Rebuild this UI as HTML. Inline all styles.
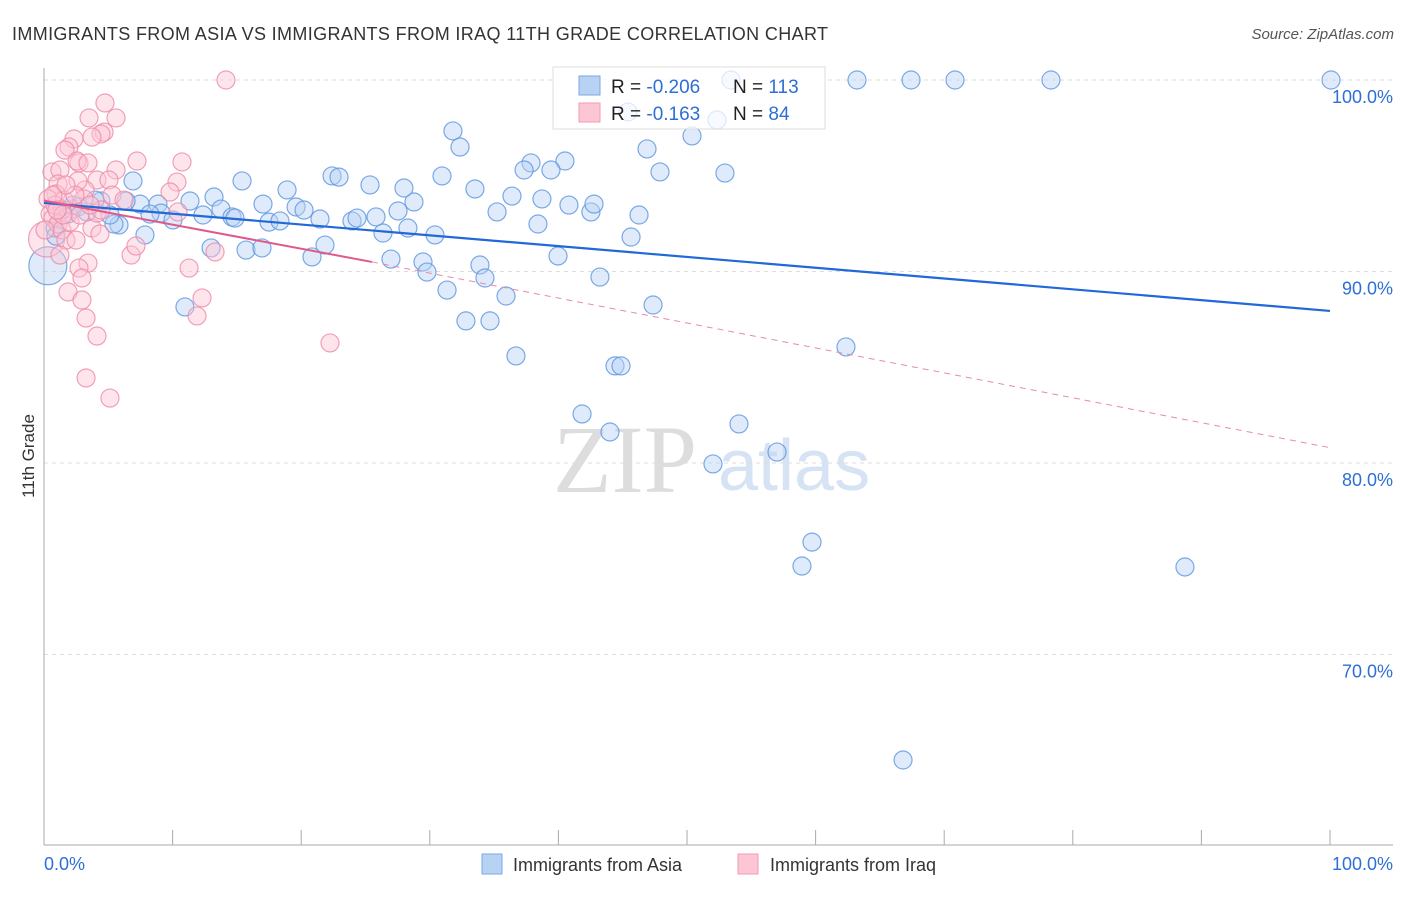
<!DOCTYPE html>
<html><head><meta charset="utf-8"><style>
body{margin:0;background:#fff;font-family:"Liberation Sans",sans-serif}
svg text{font-family:"Liberation Sans",sans-serif}
</style></head><body>
<svg id="c" width="1406" height="892" xmlns="http://www.w3.org/2000/svg">
<text x="12" y="40" font-size="18" fill="#333" letter-spacing="0.36">IMMIGRANTS FROM ASIA VS IMMIGRANTS FROM IRAQ 11TH GRADE CORRELATION CHART</text>
<text x="1394" y="39" font-size="15" fill="#555" font-style="italic" text-anchor="end">Source: ZipAtlas.com</text>
<text x="34" y="456" font-size="17" fill="#333" text-anchor="middle" transform="rotate(-90 34 456)">11th Grade</text>
<g><text x="553" y="492" font-size="96" fill="#ddd" style="font-family:'Liberation Serif',serif">ZIP</text><text x="718" y="490" font-size="72" fill="#d5e3f5">atlas</text></g>
<g id="grid"></g><g id="pts"></g><g id="lines"></g>
<g>
<rect x="553" y="67" width="272" height="62" fill="#fff" fill-opacity="0.75" stroke="#ddd"/>
<rect x="579" y="76" width="21" height="19" fill="#b8d2f3" stroke="#7aaae6"/>
<rect x="579" y="103" width="21" height="19" fill="#fcc6d4" stroke="#f29ab4"/>
<text x="611" y="93" font-size="19" fill="#222">R = <tspan fill="#2d6fd6">-0.206</tspan></text>
<text x="733" y="93" font-size="19" fill="#222">N = <tspan fill="#2d6fd6">113</tspan></text>
<text x="611" y="120" font-size="19" fill="#222">R =  <tspan fill="#2d6fd6">-0.163</tspan></text>
<text x="733" y="120" font-size="19" fill="#222">N =  <tspan fill="#2d6fd6">84</tspan></text>
</g>
<g>
<rect x="482" y="854" width="20" height="20" fill="#b8d2f3" stroke="#7aaae6"/>
<text x="513" y="871" font-size="18" fill="#333">Immigrants from Asia</text>
<rect x="738" y="854" width="20" height="20" fill="#fcc6d4" stroke="#f29ab4"/>
<text x="770" y="871" font-size="18" fill="#333">Immigrants from Iraq</text>
</g>
</svg>
<script>
const yTicks=[100,90,80,70];
const xTickLabels=["0.0%","100.0%"];
const asiaPx=[[731,80],[857,80],[911,80],[955,80],[1051,80],[1331,80],[628,112],[717,120],[453,131],[460,147],[692,136],[647,149],[531,163],[524,170],[565,161],[551,170],[660,172],[725,173],[442,176],[475,189],[370,185],[332,176],[339,177],[242,181],[133,181],[287,190],[263,204],[214,197],[190,201],[158,204],[140,204],[126,201],[101,201],[78,207],[68,214],[161,213],[173,220],[203,215],[221,209],[232,217],[235,218],[269,222],[280,221],[296,207],[304,210],[320,219],[352,221],[357,218],[376,217],[383,233],[398,211],[408,228],[414,202],[404,188],[435,235],[512,196],[497,212],[542,199],[538,224],[569,205],[591,212],[594,204],[639,215],[631,237],[558,256],[600,277],[653,305],[480,265],[485,278],[423,262],[427,272],[447,290],[506,296],[466,321],[490,321],[516,356],[391,259],[325,245],[312,257],[211,248],[246,250],[262,248],[145,235],[119,225],[114,224],[185,307],[582,414],[610,432],[615,366],[621,366],[713,464],[739,424],[777,452],[846,347],[812,542],[802,566],[1185,567],[903,760],[95,200],[87,212],[73,205],[62,210],[55,228],[56,236],[110,215],[150,214]];
const iraqPx=[[226,80],[105,103],[89,118],[116,118],[104,132],[101,134],[74,139],[92,137],[69,147],[65,150],[52,172],[60,170],[79,163],[77,161],[88,163],[97,180],[116,170],[137,161],[182,162],[177,182],[170,192],[109,180],[85,190],[78,181],[58,184],[56,194],[48,199],[50,214],[53,218],[58,224],[62,230],[66,240],[76,240],[92,228],[100,234],[72,209],[84,199],[97,213],[112,195],[178,212],[189,268],[215,252],[131,255],[136,246],[88,263],[79,268],[82,278],[68,292],[82,300],[86,318],[97,336],[86,378],[110,398],[202,298],[197,316],[330,343],[64,200],[55,205],[60,255],[53,195],[70,222],[80,215],[101,210],[124,200],[63,215],[45,230],[57,210],[90,205],[75,195],[66,185]];
const asiaX=asiaPx.map(p=>+((p[0]-44)/12.86).toFixed(2)), asiaY=asiaPx.map(p=>+(100-(p[1]-80)/19.15).toFixed(2));
const iraqX=iraqPx.map(p=>+((p[0]-44)/12.86).toFixed(2)), iraqY=iraqPx.map(p=>+(100-(p[1]-80)/19.15).toFixed(2));
const bigAsia=[[0.3,90.3]], bigIraq=[[0.2,91.7]];
const asiaTrend=[[0,93.58],[100,87.94]];
const iraqTrend=[[0,93.7],[25.5,90.5],[100,80.8]];
const NS="http://www.w3.org/2000/svg";
const X=v=>44+v*12.86, Y=v=>80+(100-v)*19.15;
function mk(t,a,p){const e=document.createElementNS(NS,t);for(const k in a)e.setAttribute(k,a[k]);p.appendChild(e);return e;}
const g=document.getElementById('grid');
yTicks.forEach(t=>{const l=mk('line',{x1:44,x2:1393,y1:Y(t),y2:Y(t),stroke:'#ddd','stroke-dasharray':'4 4'},g);


const tx=mk('text',{x:1393,y:Y(t)+23,'font-size':18,fill:'#2d6fd6','text-anchor':'end'},g);tx.textContent=t.toFixed(1)+'%';

});
const ax=mk('line',{x1:44,x2:44,y1:68,y2:845,stroke:'#aaa'},g);


const bx=mk('line',{x1:44,x2:1393,y1:845,y2:845,stroke:'#aaa'},g);


for(let i=0;i<=10;i++){const t=mk('line',{x1:X(i*10),x2:X(i*10),y1:830,y2:845,stroke:'#aaa'},g);

}
[[0,'start',44],[1,'end',1393]].forEach(([i,a,x])=>{const t=mk('text',{x:x,y:870,'font-size':18,fill:'#2d6fd6','text-anchor':a},g);t.textContent=xTickLabels[i];

});
const pg=document.getElementById('pts');
function dot(x,y,r,fill,stroke,name){const c=mk('circle',{cx:X(x),cy:Y(y),r:r,fill:fill,'fill-opacity':0.45,stroke:stroke,'stroke-opacity':0.8,'stroke-width':1.2},pg);

}
bigAsia.forEach(p=>dot(p[0],p[1],19,'#b8d2f3','#5b95e0','asia-point'));
bigIraq.forEach(p=>dot(p[0],p[1],18,'#fcc6d4','#ee8aa8','iraq-point'));
asiaX.forEach((x,i)=>dot(x,asiaY[i],9,'#b8d2f3','#5b95e0','asia-point'));
iraqX.forEach((x,i)=>dot(x,iraqY[i],9,'#fcc6d4','#ee8aa8','iraq-point'));
const lg=document.getElementById('lines');
const l1=mk('line',{x1:X(asiaTrend[0][0]),y1:Y(asiaTrend[0][1]),x2:X(asiaTrend[1][0]),y2:Y(asiaTrend[1][1]),stroke:'#2168d8','stroke-width':2.2},lg);


const l2=mk('line',{x1:X(iraqTrend[0][0]),y1:Y(iraqTrend[0][1]),x2:X(iraqTrend[1][0]),y2:Y(iraqTrend[1][1]),stroke:'#e2588a','stroke-width':2},lg);


const l3=mk('line',{x1:X(iraqTrend[1][0]),y1:Y(iraqTrend[1][1]),x2:X(iraqTrend[2][0]),y2:Y(iraqTrend[2][1]),stroke:'#e88aaa','stroke-width':1,'stroke-dasharray':'6 5'},lg);


</script>
</body></html>
